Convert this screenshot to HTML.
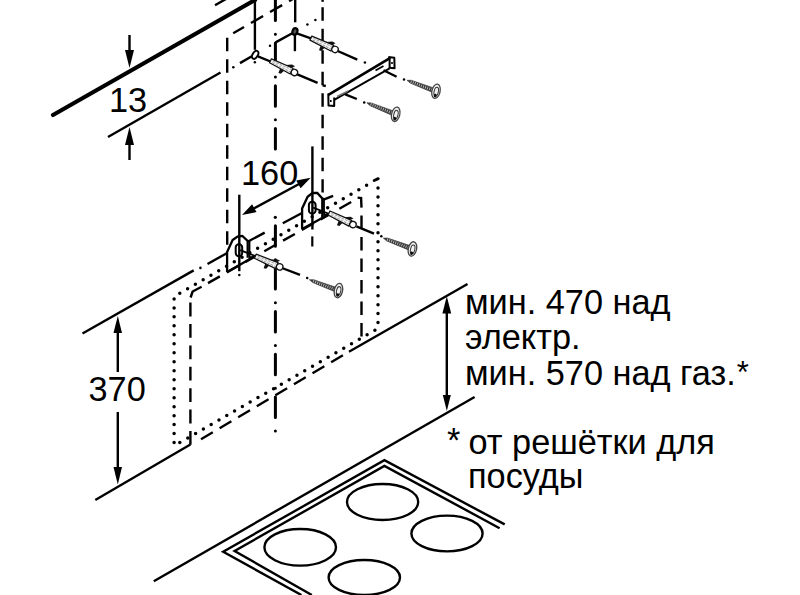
<!DOCTYPE html>
<html><head><meta charset="utf-8">
<style>
html,body{margin:0;padding:0;background:#fff;}
body{width:800px;height:595px;overflow:hidden;position:relative;}
svg{position:absolute;left:0;top:0;}
text{font-family:"Liberation Sans",sans-serif;fill:#000;}
</style></head><body>
<svg width="800" height="595" viewBox="0 0 800 595">

<g fill="none" stroke="#000" stroke-width="2.4" stroke-linecap="butt">
<!-- wall thick line -->
<line x1="53" y1="115" x2="255" y2="0" stroke-width="4.2" stroke-linecap="round"/>
<line x1="215" y1="5.3" x2="226" y2="-1"/>
<!-- dimension 13 -->
<line x1="108" y1="137" x2="220.5" y2="72.5"/>
<line x1="240" y1="63.1" x2="251.8" y2="56.3"/>
<line x1="129.5" y1="35" x2="129.5" y2="55"/>
<line x1="129.5" y1="140" x2="129.5" y2="160"/>
<!-- dimension 370 -->
<line x1="82.5" y1="333.5" x2="193.7" y2="270.4"/>
<line x1="207.5" y1="264" x2="226.8" y2="253.2"/>
<line x1="200.4" y1="267.9" x2="200.4" y2="267.9" stroke-width="2.6" stroke-linecap="round"/>
<line x1="249" y1="241" x2="264.7" y2="232.6"/>
<line x1="282.8" y1="223.2" x2="301.5" y2="213.2"/>
<line x1="323.5" y1="199.7" x2="333.1" y2="195.8"/>
<line x1="117.8" y1="330" x2="117.8" y2="372"/>
<line x1="117.8" y1="412" x2="117.8" y2="470"/>
<line x1="95.3" y1="500" x2="190.4" y2="444.5"/>
<!-- line L right solid -->
<line x1="349" y1="351.7" x2="467.5" y2="284"/>
<!-- L dashed part -->
<line x1="201" y1="439.3" x2="349" y2="351.7" stroke-dasharray="13.7 7.9"/>
<!-- 470 dimension -->
<line x1="446.8" y1="310" x2="446.8" y2="396"/>
<!-- line M -->
<line x1="153.8" y1="581.2" x2="474.6" y2="397"/>
<!-- hob -->
<polyline points="301.4,595 223.2,551.7 384.4,460.2 504.7,524.4"/>
<polyline points="311.8,595 234.6,551 384.4,465.9 499.6,528.2"/>
<ellipse cx="300.2" cy="547.3" rx="35.8" ry="18.3"/>
<ellipse cx="364.3" cy="577.5" rx="35.7" ry="17.5"/>
<ellipse cx="382.6" cy="502" rx="35.6" ry="18"/>
<ellipse cx="447" cy="533.5" rx="35.6" ry="17.9"/>
<!-- chimney dashed -->
<line x1="227.2" y1="37.8" x2="227.2" y2="245" stroke-dasharray="13.5 8"/>
<line x1="233.2" y1="33.3" x2="300" y2="-5.2" stroke-dasharray="14 8" stroke-dashoffset="1.5"/>
<line x1="322.6" y1="0" x2="322.6" y2="1.8"/>
<line x1="322.6" y1="7.2" x2="322.6" y2="192.6" stroke-dasharray="13.6 7.9"/>
<!-- dotted rect -->
<g stroke-width="3.5" stroke-linecap="round">
<line x1="174.1" y1="298.9" x2="174.1" y2="442.6" stroke-dasharray="0 8.98"/>
<line x1="179.8" y1="442.4" x2="179.8" y2="442.4"/>
<line x1="187.8" y1="438" x2="374.9" y2="330.3" stroke-dasharray="0 8.995"/>
<line x1="378" y1="187.9" x2="378" y2="322.7" stroke-dasharray="0 8.98"/>
<line x1="179.8" y1="293.2" x2="367.2" y2="184.9" stroke-dasharray="0 8.99"/>
<line x1="374.2" y1="180.5" x2="378.2" y2="178.7" stroke-width="3"/>
</g>
<!-- sparse dots -->
<g stroke-width="2.5" stroke-linecap="round">
<line x1="233.3" y1="67.3" x2="233.3" y2="67.3"/>
<line x1="270" y1="45.7" x2="270" y2="45.7"/>
<line x1="307.4" y1="24.6" x2="307.4" y2="24.6"/>
<line x1="315.4" y1="20.1" x2="315.4" y2="20.1"/>
<line x1="254.8" y1="62.3" x2="254.8" y2="62.3"/>
<line x1="239.3" y1="275" x2="239.3" y2="275"/>
<line x1="275.3" y1="217.3" x2="275.3" y2="217.3" stroke-width="3.2" stroke-linecap="round"/>
<line x1="312.3" y1="236.4" x2="312.3" y2="246.5" stroke-width="2.2" stroke-linecap="butt"/>
<line x1="364.9" y1="62.6" x2="364.9" y2="62.6"/>
<line x1="364.2" y1="102.5" x2="364.2" y2="102.5"/>
<line x1="404" y1="79.6" x2="404" y2="79.6"/>
<line x1="381.3" y1="236.3" x2="381.3" y2="236.3"/>
<line x1="307.2" y1="278.1" x2="307.2" y2="278.1"/>
</g>
<!-- dashed rect -->
<line x1="190.4" y1="302.6" x2="190.4" y2="445" stroke-dasharray="13.8 7.6"/>
<path d="M190.6,297.5 L192.6,291.5 L201.6,286.8"/>
<line x1="208" y1="283.1" x2="352" y2="201.6" stroke-dasharray="13.6 7.96"/>
<path d="M357.6,197.6 L361.1,198 L361.5,207.6"/>
<line x1="361.5" y1="215.5" x2="361.5" y2="336.5" stroke-dasharray="13.5 8"/>
<!-- center line -->
<line x1="275.4" y1="0.1" x2="275.4" y2="150" stroke-width="3" stroke-linecap="round" stroke-dasharray="20.5 13.55 0 8.75"/>
<line x1="275.4" y1="225.8" x2="275.4" y2="433" stroke-width="3" stroke-linecap="round" stroke-dasharray="20.5 13.55 0 8.75"/>
<!-- 160 dim -->
<line x1="239.3" y1="194.7" x2="239.3" y2="271.2"/>
<line x1="312.4" y1="146.4" x2="312.4" y2="229.5"/>
<line x1="246" y1="212.8" x2="306" y2="180.3"/>
<!-- holes top -->
<line x1="254.9" y1="0" x2="254.9" y2="49.8"/>
<line x1="295.2" y1="0" x2="295.2" y2="22.3"/>
<line x1="294.9" y1="35" x2="294.9" y2="51.2"/>
<line x1="292.3" y1="33.3" x2="275.6" y2="42.4"/>
<line x1="257.9" y1="56.3" x2="270.5" y2="61.5"/>
<line x1="296.8" y1="33.3" x2="310.9" y2="38.4"/>
<line x1="297.3" y1="74.4" x2="317.6" y2="82.8"/>
<line x1="322.6" y1="85.4" x2="325.8" y2="86"/>
<line x1="337.7" y1="51" x2="357.3" y2="59.6"/>
<line x1="345.2" y1="94.4" x2="356.8" y2="99"/>
<line x1="383.5" y1="70.2" x2="396.6" y2="76.7"/>
<line x1="282" y1="268" x2="300" y2="274.9"/>
<line x1="356.4" y1="226.3" x2="374" y2="233.7"/>
<ellipse cx="255.2" cy="54.8" rx="2.6" ry="4.4" transform="rotate(30 255.2 54.8)" stroke-width="1.9"/>
<ellipse cx="294.9" cy="31.5" rx="2.4" ry="3.4" transform="rotate(20 294.9 31.5)" stroke-width="2.2" fill="#555"/>
<!-- bracket 1 -->
<path d="M227.1,272 L227.1,252 L232.6,240.1 L237.5,236.5 L242.3,235.9 L247.7,240.9 L247.7,257.7" stroke-width="2.3"/>
<path d="M227.1,272 L255.3,256" stroke-width="2.3"/>
<path d="M247.7,240.9 L249.5,241.5 L249.5,257.5 L255.3,256" stroke-width="1.8"/>
<rect x="235.7" y="244.3" width="6.5" height="12" rx="3.2" stroke-width="2"/>
<line x1="240.2" y1="250.2" x2="255.3" y2="256" stroke-width="1.8"/>
<!-- bracket 2 -->
<path d="M302.1,229.1 L302.1,208.5 L307.6,196.8 L312.5,193 L317.3,193 L322.3,198.4 L322.3,217" stroke-width="2.3"/>
<path d="M302.1,229.1 L329.5,214" stroke-width="2.3"/>
<path d="M322.3,198.4 L324,199 L324,215 L329.5,214" stroke-width="1.8"/>
<rect x="308.9" y="201.8" width="6.7" height="11.8" rx="3.2" stroke-width="2"/>
<line x1="313.2" y1="207.7" x2="329.5" y2="214" stroke-width="1.8"/>
<!-- rail bracket -->
<line x1="329.2" y1="94.4" x2="389.5" y2="58.4" stroke-width="2.7" stroke-linecap="round"/>
<path d="M328.3,93.5 L328.5,105.4 L334.2,106 L334.2,97.5" stroke-width="2" stroke-linejoin="round"/>
<path d="M388.3,57 L394.3,57.7 L394.6,68.2 L389.6,67.8 L389.6,59" stroke-width="2" stroke-linejoin="round"/>
<line x1="330.8" y1="100" x2="330.8" y2="102" stroke-width="1.6"/>
<line x1="392" y1="62" x2="392" y2="64" stroke-width="1.6"/>
<line x1="334.2" y1="99.8" x2="389.6" y2="68.4" stroke-width="1.9"/>
<line x1="337" y1="96.5" x2="348" y2="91" stroke-width="1.4" stroke="#777"/>
<line x1="375.5" y1="70.5" x2="383.5" y2="66" stroke-width="1.8"/>
</g>
<g transform="translate(270.5,60.8) rotate(26)">
<path d="M0,-2.2 L23.5,-3.2 L23.5,3.2 L0,2.2 Z" fill="#f4f4f4" stroke="#111" stroke-width="1.3" stroke-linejoin="round"/>
<line x1="2.5" y1="-0.8" x2="22.5" y2="-1.2" stroke="#999" stroke-width="0.9" stroke-dasharray="2.5 1.2"/>
<line x1="2.5" y1="0.9" x2="22.5" y2="1.3" stroke="#999" stroke-width="0.9" stroke-dasharray="2.5 1.2"/>
<polygon points="15.5,-2.9 21,-6 24.5,-5.8 22,-3" fill="#111"/>
<polygon points="12,2.7 12.5,7.6 15,7.2 16.5,2.9" fill="#111"/>
<circle cx="26.6" cy="0" r="3.2" fill="#fff" stroke="#111" stroke-width="1.3"/>
</g>
<g transform="translate(310.9,38.1) rotate(25.1)">
<path d="M0,-2.2 L23.5,-3.2 L23.5,3.2 L0,2.2 Z" fill="#f4f4f4" stroke="#111" stroke-width="1.3" stroke-linejoin="round"/>
<line x1="2.5" y1="-0.8" x2="22.5" y2="-1.2" stroke="#999" stroke-width="0.9" stroke-dasharray="2.5 1.2"/>
<line x1="2.5" y1="0.9" x2="22.5" y2="1.3" stroke="#999" stroke-width="0.9" stroke-dasharray="2.5 1.2"/>
<polygon points="15.5,-2.9 21,-6 24.5,-5.8 22,-3" fill="#111"/>
<polygon points="12,2.7 12.5,7.6 15,7.2 16.5,2.9" fill="#111"/>
<circle cx="26.6" cy="0" r="3.2" fill="#fff" stroke="#111" stroke-width="1.3"/>
</g>
<g transform="translate(255.3,256.2) rotate(23.7)">
<path d="M0,-2.2 L23.5,-3.2 L23.5,3.2 L0,2.2 Z" fill="#f4f4f4" stroke="#111" stroke-width="1.3" stroke-linejoin="round"/>
<line x1="2.5" y1="-0.8" x2="22.5" y2="-1.2" stroke="#999" stroke-width="0.9" stroke-dasharray="2.5 1.2"/>
<line x1="2.5" y1="0.9" x2="22.5" y2="1.3" stroke="#999" stroke-width="0.9" stroke-dasharray="2.5 1.2"/>
<polygon points="15.5,-2.9 21,-6 24.5,-5.8 22,-3" fill="#111"/>
<polygon points="12,2.7 12.5,7.6 15,7.2 16.5,2.9" fill="#111"/>
<circle cx="26.6" cy="0" r="3.2" fill="#fff" stroke="#111" stroke-width="1.3"/>
</g>
<g transform="translate(329,213) rotate(25.8)">
<path d="M0,-2.2 L23.5,-3.2 L23.5,3.2 L0,2.2 Z" fill="#f4f4f4" stroke="#111" stroke-width="1.3" stroke-linejoin="round"/>
<line x1="2.5" y1="-0.8" x2="22.5" y2="-1.2" stroke="#999" stroke-width="0.9" stroke-dasharray="2.5 1.2"/>
<line x1="2.5" y1="0.9" x2="22.5" y2="1.3" stroke="#999" stroke-width="0.9" stroke-dasharray="2.5 1.2"/>
<polygon points="15.5,-2.9 21,-6 24.5,-5.8 22,-3" fill="#111"/>
<polygon points="12,2.7 12.5,7.6 15,7.2 16.5,2.9" fill="#111"/>
<circle cx="26.6" cy="0" r="3.2" fill="#fff" stroke="#111" stroke-width="1.3"/>
</g>
<g transform="translate(366.9,102.8) rotate(21.8)">
<path d="M0,0 L4,-1.5 L29,-2.3 L29,2.3 L4,1.5 Z" fill="#3a3a3a" stroke="#3a3a3a" stroke-width="0.6" stroke-linejoin="round"/>
<line x1="4" y1="0" x2="28.5" y2="0" stroke="#c8c8c8" stroke-width="2.6" stroke-dasharray="0.8 1.4"/>
<g transform="rotate(-8 31 0)">
<ellipse cx="31" cy="0" rx="4.1" ry="7.3" fill="#f2f2f2" stroke="#444" stroke-width="1.3"/>
<ellipse cx="31.3" cy="0.3" rx="2.1" ry="4.4" fill="none" stroke="#333" stroke-width="1"/>
<ellipse cx="31.2" cy="4.4" rx="1.5" ry="1.8" fill="#111"/>
</g>
</g>
<g transform="translate(407,80.3) rotate(20.7)">
<path d="M0,0 L4,-1.5 L29,-2.3 L29,2.3 L4,1.5 Z" fill="#3a3a3a" stroke="#3a3a3a" stroke-width="0.6" stroke-linejoin="round"/>
<line x1="4" y1="0" x2="28.5" y2="0" stroke="#c8c8c8" stroke-width="2.6" stroke-dasharray="0.8 1.4"/>
<g transform="rotate(-8 31 0)">
<ellipse cx="31" cy="0" rx="4.1" ry="7.3" fill="#f2f2f2" stroke="#444" stroke-width="1.3"/>
<ellipse cx="31.3" cy="0.3" rx="2.1" ry="4.4" fill="none" stroke="#333" stroke-width="1"/>
<ellipse cx="31.2" cy="4.4" rx="1.5" ry="1.8" fill="#111"/>
</g>
</g>
<g transform="translate(383.4,238.1) rotate(20.5)">
<path d="M0,0 L4,-1.5 L29,-2.3 L29,2.3 L4,1.5 Z" fill="#3a3a3a" stroke="#3a3a3a" stroke-width="0.6" stroke-linejoin="round"/>
<line x1="4" y1="0" x2="28.5" y2="0" stroke="#c8c8c8" stroke-width="2.6" stroke-dasharray="0.8 1.4"/>
<g transform="rotate(-8 31 0)">
<ellipse cx="31" cy="0" rx="4.1" ry="7.3" fill="#f2f2f2" stroke="#444" stroke-width="1.3"/>
<ellipse cx="31.3" cy="0.3" rx="2.1" ry="4.4" fill="none" stroke="#333" stroke-width="1"/>
<ellipse cx="31.2" cy="4.4" rx="1.5" ry="1.8" fill="#111"/>
</g>
</g>
<g transform="translate(309.4,279.7) rotate(20.6)">
<path d="M0,0 L4,-1.5 L29,-2.3 L29,2.3 L4,1.5 Z" fill="#3a3a3a" stroke="#3a3a3a" stroke-width="0.6" stroke-linejoin="round"/>
<line x1="4" y1="0" x2="28.5" y2="0" stroke="#c8c8c8" stroke-width="2.6" stroke-dasharray="0.8 1.4"/>
<g transform="rotate(-8 31 0)">
<ellipse cx="31" cy="0" rx="4.1" ry="7.3" fill="#f2f2f2" stroke="#444" stroke-width="1.3"/>
<ellipse cx="31.3" cy="0.3" rx="2.1" ry="4.4" fill="none" stroke="#333" stroke-width="1"/>
<ellipse cx="31.2" cy="4.4" rx="1.5" ry="1.8" fill="#111"/>
</g>
</g>
<g fill="#000" stroke="none">
<polygon points="129.5,68 125,50 134,50"/>
<polygon points="129.5,127 125,145 134,145"/>
<polygon points="117.8,316 113.5,333 122,333"/>
<polygon points="117.8,484.5 113.5,467 122,467"/>
<polygon points="446.8,296.2 442.4,313.4 451.2,313.4"/>
<polygon points="446.8,411 442.8,395 450.8,395"/>
<polygon points="242,214.9 252.1,204.3 256.5,212.1"/>
<polygon points="310.7,177.7 296.2,180.5 300.6,188.3"/>
</g>
<g font-size="34.3">
<text x="109" y="112">13</text>
<text x="241" y="185">160</text>
<text x="88.5" y="401">370</text>
<text x="465" y="314">мин. 470 над</text>
<text x="465" y="349">электр.</text>
<text x="465" y="385">мин. 570 над газ.<tspan dx="1" dy="-2" font-size="31">*</tspan></text>
<text x="447" y="452">*</text>
<text x="468.5" y="454">от решётки для</text>
<text x="468" y="488">посуды</text>
</g>
</svg>
</body></html>
